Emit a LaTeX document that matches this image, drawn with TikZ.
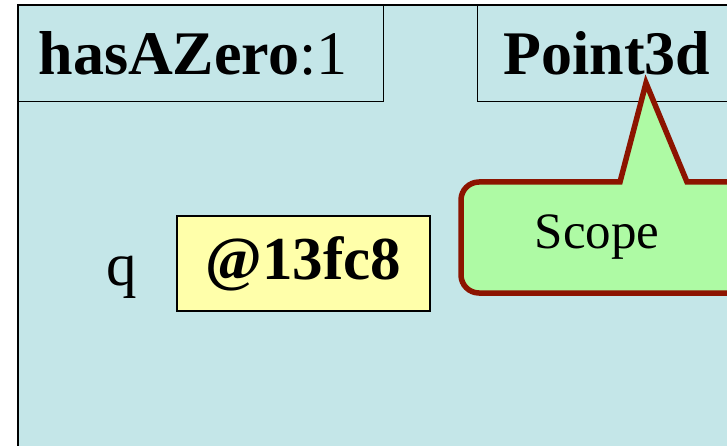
\documentclass[tikz,border=0pt]{standalone}
\usepackage{fontspec}
\setmainfont{Liberation Serif}
\definecolor{framebg}{HTML}{C4E6E8}
\definecolor{valbg}{HTML}{FFFFAA}
\definecolor{notebg}{HTML}{AEFAA4}
\definecolor{noteline}{HTML}{8C1400}
\tikzset{
  frame/.style={draw=black, line width=1.2pt, fill=framebg},
  hdrbox/.style={draw=black, line width=1.2pt, fill=framebg, anchor=north west,
    minimum height=96pt, inner xsep=#1, align=left, inner ysep=0pt,
    font=\fontsize{62}{70}\selectfont},
  valbox/.style={draw=black, line width=1.2pt, fill=valbg, minimum width=253pt,
    minimum height=95pt, inner sep=0pt, font=\fontsize{61}{70}\selectfont\bfseries},
  varname/.style={inner sep=0pt, anchor=base, font=\fontsize{61}{70}\selectfont},
  notebox/.style={draw=noteline, line width=5.5pt, fill=notebg, line join=miter},
  notetext/.style={inner sep=0pt, anchor=base, font=\fontsize{51}{60}\selectfont}
}
\begin{document}
\begin{tikzpicture}[x=1pt, y=-1pt]
  \useasboundingbox (0,0) rectangle (727,446);
  \clip (0,0) rectangle (727,446);
  % stack frame
  \path[frame] (18,5) rectangle (820,520);
  % frame headers
  \node[hdrbox=20pt, text width=325pt] (method) at (18,5) {\textbf{hasAZero}:1};
  \node[hdrbox=26pt, text width=300pt] (cls) at (477,5) {\textbf{Point3d}};
  % local variable
  \node[valbox] (val) at (303.5,263.5) {@13fc8};
  \node[varname] (var) at (122,285) {q};
  % callout
  \coordinate (tip) at (646,83);
  \draw[notebox] (560,182) -- (620,182) -- (tip) -- (687,182)
    [rounded corners=18pt] -- (780,182) -- (780,293) -- (461,293) -- (461,182) -- cycle;
  \node[notetext] (note) at (597,248) {Scope};
\end{tikzpicture}
\end{document}
